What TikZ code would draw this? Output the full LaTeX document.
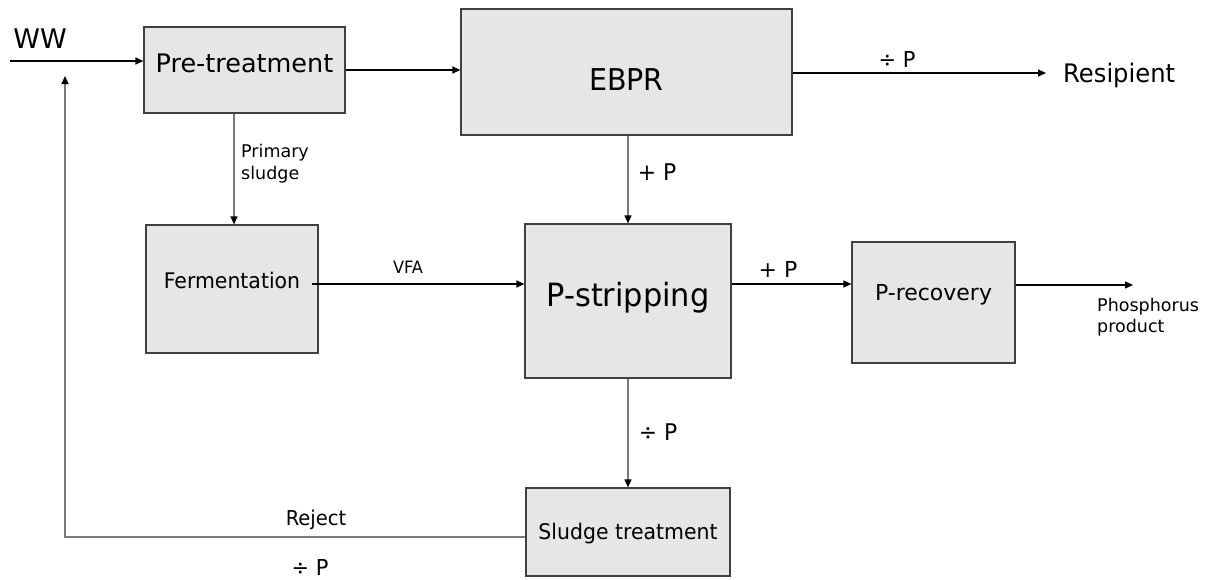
\documentclass[tikz,border=0pt]{standalone}
\usepackage{fontspec}
\setmainfont{DejaVu Sans}
\newfontfamily\tah{DejaVu Sans}[FakeStretch=0.95]
\usetikzlibrary{arrows.meta}
\definecolor{boxfill}{HTML}{E6E6E6}
\definecolor{boxline}{HTML}{404040}
\definecolor{greyline}{HTML}{7A7A7A}
\newcommand{\fs}[1]{\fontsize{#1}{#1}\selectfont}
\tikzset{
  box/.style={draw=boxline, fill=boxfill, line width=1.2pt, inner sep=0pt, anchor=center},
  flow/.style={line width=1.2pt, draw=black, -{Triangle[length=8pt,width=7pt]}},
  gflow/.style={line width=1.2pt, draw=greyline, -{Triangle[length=8pt,width=7pt,color=black]}},
  lbl/.style={inner sep=0pt, anchor=base}
}
\begin{document}
\begin{tikzpicture}[x=1pt,y=-1pt]
\path[use as bounding box, fill=white] (0,0) rectangle (1210,579);

% boxes
\node[box, minimum width=201pt, minimum height=86pt, font=\fs{25.5}, text height=18.6pt, text depth=13pt] (pre) at (244.5,70) {Pre-treatment};
\node[box, minimum width=331pt, minimum height=126pt, font=\tah\fs{30}, text height=36pt, text depth=0pt] (ebpr) at (626.5,72) {EBPR};
\node[box, minimum width=172pt, minimum height=128pt, font=\tah\fs{21.5}, text height=15.7pt, text depth=17pt] (ferm) at (232,289) {Fermentation};
\node[box, minimum width=206pt, minimum height=154pt, font=\tah\fs{32}, text height=23.3pt, text depth=13pt] (pstrip) at (628,301) {P-stripping};
\node[box, minimum width=163pt, minimum height=121pt, font=\fs{22}, text height=16pt, text depth=20pt] (prec) at (933.5,302.5) {P-recovery};
\node[box, minimum width=204pt, minimum height=88pt, font=\tah\fs{21.5}, text height=15.7pt, text depth=0pt] (sludge) at (628,532) {Sludge treatment};

% free labels / terminals
\node[lbl, font=\fs{27}] (ww) at (40,48) {WW};
\node[lbl, anchor=base west, font=\tah\fs{25.5}] (res) at (1063,82) {Resipient};
\node[inner sep=0pt, anchor=north west, align=left, font=\fontsize{17.5}{22}\selectfont] (prim) at (241,143.5) {Primary\\sludge};
\node[inner sep=0pt, anchor=north west, align=left, font=\fontsize{17.5}{21}\selectfont] (prod) at (1097,298) {Phosphorus\\product};

% coordinates
\coordinate (wwin) at (10,61);
\coordinate (resend) at (1046,73);
\coordinate (prodend) at (1133,285);
\coordinate (fbcorner) at (65,537);
\coordinate (fbtip) at (65,76);

% connectors
\draw[flow] (wwin) -- (wwin -| pre.west);
\draw[flow] (pre.east) -- (pre.east -| ebpr.west);
\draw[flow] (ebpr.east |- resend) -- (resend);
\node[lbl, font=\tah\fs{22}] (lp1) at (897,67) {÷ P};

\draw[gflow] (pstrip.north |- ebpr.south) -- (pstrip.north);
\node[lbl, font=\tah\fs{23}] (lp2) at (657,180) {+ P};

\draw[gflow] (pre.south -| 234,0) -- (ferm.north -| 234,0);

\draw[flow] ([xshift=-7pt]ferm.east |- 0,284) -- (pstrip.west |- 0,284);
\node[lbl, font=\tah\fs{17}] (vfa) at (408,273) {VFA};

\draw[flow] (pstrip.east |- 0,284) -- (prec.west |- 0,284);
\node[lbl, font=\fs{22}] (lp3) at (778,277) {+ P};

\draw[flow] (prec.east |- prodend) -- (prodend);

\draw[gflow] (pstrip.south) -- (sludge.north);
\node[lbl, font=\tah\fs{23}] (lp4) at (658,440) {÷ P};

\draw[gflow] (sludge.west |- fbcorner) -- (fbcorner) -- (fbtip);
\node[lbl, font=\tah\fs{20.5}] (rej) at (316,525) {Reject};
\node[lbl, font=\tah\fs{22}] (lp5) at (310,575) {÷ P};
\end{tikzpicture}
\end{document}
